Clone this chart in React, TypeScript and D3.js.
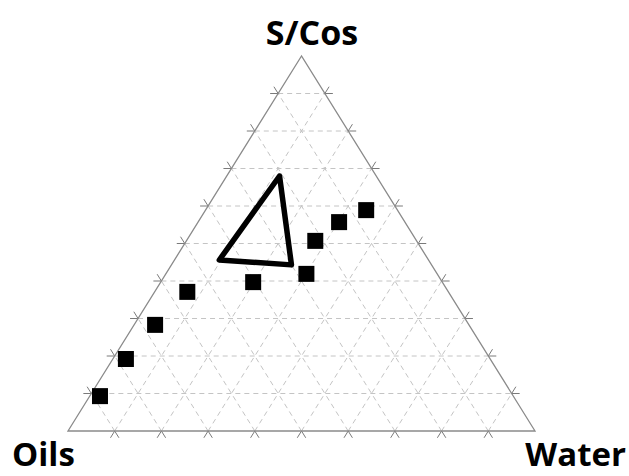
import { useEffect, useRef } from "react";
import * as d3 from "d3";

// ternary composition in % : [S/Cos, Water]; Oils = 100 - both
const pointSCos = [9.3, 19.2, 28.3, 37.1, 39.7, 41.9, 50.7, 55.7, 58.9];
const pointWater = [2.2, 2.8, 4.5, 7.0, 19.8, 30.1, 27.6, 30.2, 34.4];

// outlined region
const regionSCos = [68, 45.6, 44.3];
const regionWater = [11.3, 9.6, 25.7];

const vertexLabels = ["S/Cos", "Oils", "Water"];
const gridSteps = d3.range(10, 100, 10);

const W = 629;
const H = 476;

export default function App() {
  const svgRef = useRef<SVGSVGElement>(null);

  useEffect(() => {
    const svg = d3.select(svgRef.current);
    svg.selectAll("*").remove();

    const x = d3.scaleLinear().domain([0, 100]).range([68, 535]);
    const y = d3.scaleLinear().domain([0, 100]).range([431, 56]);
    // water along the base, S/Cos up to the apex
    const proj = (s: number, w: number): [number, number] => [x(w + s / 2), y(s)];

    const grid = svg.append("g");
    const tickLen = 8;
    const tickG = svg.append("g");

    const addLine = (a: [number, number], b: [number, number]) => {
      grid.append("line")
        .attr("x1", a[0]).attr("y1", a[1]).attr("x2", b[0]).attr("y2", b[1])
        .attr("stroke", "#c4c4c4").attr("stroke-width", 1)
        .attr("stroke-dasharray", "5,4");
      // ticks: extend the line a bit outside both ends
      const dx = b[0] - a[0], dy = b[1] - a[1];
      const len = Math.hypot(dx, dy);
      const ux = dx / len, uy = dy / len;
      [[a, -1], [b, 1]].forEach(([p, sgn]: any) => {
        tickG.append("line")
          .attr("x1", p[0]).attr("y1", p[1])
          .attr("x2", p[0] + sgn * ux * tickLen).attr("y2", p[1] + sgn * uy * tickLen)
          .attr("stroke", "#7a7a7a").attr("stroke-width", 1);
      });
    };

    gridSteps.forEach((k) => {
      // constant S/Cos (horizontal)
      addLine(proj(k, 0), proj(k, 100 - k));
      // constant water
      addLine(proj(0, k), proj(100 - k, k));
      // constant oils
      addLine(proj(0, 100 - k), proj(100 - k, 0));
    });

    // triangle outline
    const outline = [proj(100, 0), proj(0, 0), proj(0, 100)];
    svg.append("path")
      .attr("d", d3.line()(outline) + "Z")
      .attr("fill", "none")
      .attr("stroke", "#8a8a8a")
      .attr("stroke-width", 1.3);

    // region polygon
    const region = regionSCos.map((s, i) => proj(s, regionWater[i]));
    svg.append("path")
      .attr("d", d3.line()(region) + "Z")
      .attr("fill", "none")
      .attr("stroke", "#000")
      .attr("stroke-width", 5.5)
      .attr("stroke-linejoin", "round");

    // points
    const size = 16;
    svg.append("g")
      .selectAll("rect")
      .data(pointSCos.map((s, i) => proj(s, pointWater[i])))
      .join("rect")
      .attr("x", (d) => d[0] - size / 2)
      .attr("y", (d) => d[1] - size / 2)
      .attr("width", size)
      .attr("height", size)
      .attr("fill", "#000");

    // vertex labels
    const labelPos = [
      { x: 312, y: 45, anchor: "middle" },
      { x: 12, y: 466, anchor: "start" },
      { x: 626, y: 466, anchor: "end" },
    ];
    svg.append("g")
      .selectAll("text")
      .data(vertexLabels)
      .join("text")
      .attr("x", (_, i) => labelPos[i].x)
      .attr("y", (_, i) => labelPos[i].y)
      .attr("text-anchor", (_, i) => labelPos[i].anchor)
      .style("font-family", "'Open Sans', sans-serif")
      .style("font-weight", 700)
      .style("font-size", (_, i) => (i === 0 ? "34px" : "33px"))
      .attr("fill", "#000")
      .text((d) => d);
  }, []);

  return (
    <svg
      ref={svgRef}
      width={W}
      height={H}
      style={{ position: "absolute", left: 0, top: 0, background: "#fff" }}
    ></svg>
  );
}
